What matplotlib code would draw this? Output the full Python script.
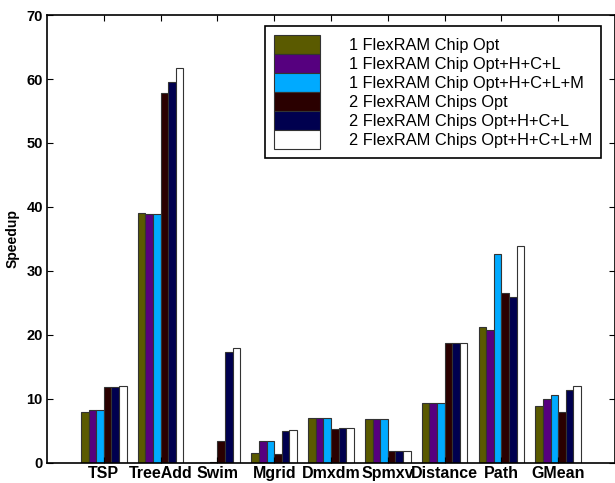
import matplotlib
matplotlib.use("Agg")
import matplotlib.pyplot as plt
import numpy as np

plt.rcParams["font.family"] = ["Liberation Sans", "DejaVu Sans"]

benchmarks = ["TSP", "TreeAdd", "Swim", "Mgrid", "Dmxdm", "Spmxv", "Distance", "Path", "GMean"]
series = ["1 FlexRAM Chip Opt", "1 FlexRAM Chip Opt+H+C+L", "1 FlexRAM Chip Opt+H+C+L+M",
          "2 FlexRAM Chips Opt", "2 FlexRAM Chips Opt+H+C+L", "2 FlexRAM Chips Opt+H+C+L+M"]
one_opt = [7.9, 39.1, 0.05, 1.5, 7.0, 6.9, 9.4, 21.2, 8.9]
one_hcl = [8.3, 38.9, 0.05, 3.4, 7.0, 6.9, 9.4, 20.8, 10.0]
one_hclm = [8.3, 38.9, 0.1, 3.4, 7.0, 6.9, 9.4, 32.6, 10.7]
two_opt = [11.9, 57.8, 3.4, 1.4, 5.3, 1.8, 18.7, 26.6, 7.9]
two_hcl = [11.9, 59.6, 17.3, 5.0, 5.4, 1.8, 18.7, 26.0, 11.4]
two_hclm = [12.1, 61.7, 17.9, 5.1, 5.4, 1.8, 18.8, 33.9, 12.0]
colors = ["#5a5a00", "#56007f", "#00aaff", "#2a0000", "#00004f", "#ffffff"]

data = [one_opt, one_hcl, one_hclm, two_opt, two_hcl, two_hclm]

fig = plt.figure(figsize=(6.15, 4.83), dpi=100)
ax = fig.add_axes([47 / 615, 20 / 483, 568 / 615, 448 / 483])

x = np.arange(1, len(benchmarks) + 1)
w = 0.8 / 6
for i, vals in enumerate(data):
    ax.bar(x - 0.4 + w * (i + 0.5), vals, w, color=colors[i], edgecolor="#333333",
           linewidth=0.8, label=series[i])

ax.set_xlim(0, 10)
ax.set_ylim(0, 70)
ax.set_xticks(x)
ax.set_xticklabels(benchmarks, fontsize=11.5, fontweight="bold")
ax.set_yticks(range(0, 71, 10))
ax.set_yticklabels([str(v) for v in range(0, 71, 10)], fontsize=10.5, fontweight="bold")
ax.tick_params(direction="in", top=True, right=True, length=4, width=0.8)
ax.tick_params(axis="x", pad=2.5)
ax.tick_params(axis="y", pad=3)
ax.set_ylabel("Speedup", fontsize=10, fontweight="bold", labelpad=5)
for s in ax.spines.values():
    s.set_linewidth(1.2)

leg = ax.legend(loc="upper right", bbox_to_anchor=(0.975, 0.975), fontsize=11.8,
                handlelength=2.8, handleheight=1.4, labelspacing=0, handletextpad=1.75,
                borderpad=0.55, fancybox=False, framealpha=1, borderaxespad=0)
leg.get_frame().set_edgecolor("black")
leg.get_frame().set_linewidth(1.2)

fig.savefig("out.png", dpi=100)
